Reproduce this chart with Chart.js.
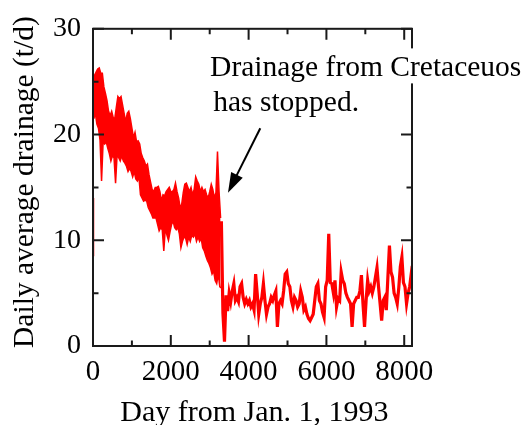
<!DOCTYPE html>
<html>
<head>
<meta charset="utf-8">
<script src="https://cdn.jsdelivr.net/npm/chart.js@4.4.1/dist/chart.umd.min.js"></script>
<style>
  html, body { margin: 0; padding: 0; background: #fff; }
  #wrap { width: 528px; height: 425px; }
</style>
</head>
<body>
<div id="wrap"><canvas id="drainChart" width="528" height="425"></canvas></div>
<script>
// setup
// days counted from Jan. 1, 1993; drainage in t/d
const startSpike = [8.5, 14];            // first day reading
// before the stop the daily values are very noisy: top / bottom of the band
const bandStep = 40;                      // top at 0, 40, 80 ... bottom at 20, 60, 100 ...
const bandTop = [
  25.0, 25.6, 25.9, 26.2, 26.3, 25.8, 25.8, 24.5, 23.9, 23.2, // 0 - 360
  22.2, 21.8, 22.2, 21.6, 21.5, 22.6, 23.6, 23.4, 23.6, 22.8, // 400 - 760
  22.0, 21.2, 22.0, 22.2, 21.5, 20.6, 19.7, 20.2, 19.3, 19.4, // 800 - 1160
  19.1, 18.2, 17.8, 17.5, 17.0, 17.2, 16.2, 15.5, 14.8, 14.6, // 1200 - 1560
  15.0, 15.0, 15.1, 14.6, 13.7, 14.3, 14.2, 14.6, 14.8, 15.0, // 1600 - 1960
  14.6, 14.6, 14.8, 15.4, 14.6, 14.0, 13.1, 13.4, 14.5, 15.3, // 2000 - 2360
  15.4, 15.0, 14.6, 15.0, 14.3, 14.8, 16.0, 15.6, 15.3, 14.6, // 2400 - 2760
  15.0, 14.6, 14.8, 14.3, 14.0, 14.6, 15.3, 14.8, 14.0, 14.5, // 2800 - 3160
  18.4, 14.6, 12.1                                            // 3200 - 3280
];
const bandBottom = [
  21.5, 22.0, 21.0, 20.6, 19.5, 15.6, 19.3, 19.1, 19.3, 18.7, // 20 - 380
  18.2, 17.5, 18.0, 17.8, 15.4, 18.1, 17.8, 17.5, 18.0, 17.5, // 420 - 780
  17.3, 17.0, 16.5, 16.8, 16.5, 16.0, 16.5, 15.8, 15.6, 16.0, // 820 - 1180
  14.3, 14.0, 13.7, 13.8, 13.7, 13.1, 12.8, 12.5, 12.1, 12.1, // 1220 - 1580
  12.1, 11.5, 10.9, 11.2, 11.0, 9.0, 11.2, 10.5, 10.0, 10.8,  // 1620 - 1980
  11.5, 11.8, 11.2, 11.0, 11.2, 10.6, 9.3, 9.9, 10.3, 10.2,   // 2020 - 2380
  9.6, 10.3, 9.9, 10.5, 10.3, 10.6, 9.9, 10.3, 9.9, 10.2,     // 2420 - 2780
  9.3, 9.0, 8.5, 8.1, 7.8, 7.4, 6.8, 7.1, 6.2, 5.9,           // 2820 - 3180
  6.8, 5.6, 5.5                                               // 3220 - 3300
];
// from the stop on: one reading every 40 days from day 3300
const afterStart = 3300;
const afterStep = 40;
const afterStop = [
  11.8, 3.1, 0.4, 4.8, 3.3, 5.0, 4.2, 5.2,           // 3300 - 3580
  5.9, 4.3, 4.6, 4.2, 5.6, 5.9, 4.6, 4.0, 4.4, 4.0,  // 3620 - 3980
  4.3, 3.7, 4.0, 3.4, 6.8, 5.0, 3.0, 4.0, 4.6, 5.9,  // 4020 - 4380
  4.3, 3.0, 3.7, 4.0, 4.6, 4.3, 4.8, 5.2, 1.8, 4.0,  // 4420 - 4780
  4.3, 4.0, 5.2, 6.8, 7.0, 5.9, 5.6, 4.3, 3.7, 4.6,  // 4820 - 5180
  4.3, 3.7, 4.0, 5.2, 4.6, 3.4, 3.7, 3.0, 2.6, 2.4,  // 5220 - 5580
  2.7, 3.0, 4.3, 5.6, 5.9, 4.3, 4.0, 3.2, 2.7, 5.6,  // 5620 - 5980
  6.2, 10.6, 6.0, 5.9, 5.0, 6.2, 3.7, 4.5, 4.3, 7.0, // 6020 - 6380
  6.2, 5.9, 5.0, 4.6, 4.3, 4.0, 1.8, 4.0, 4.3, 4.6,  // 6420 - 6780
  4.6, 5.2, 6.7, 4.0, 1.8, 4.3, 6.2, 5.2, 5.6, 5.0,  // 6820 - 7180
  5.6, 6.5, 7.4, 5.6, 4.0, 2.4, 4.3, 4.6, 3.4, 6.5,  // 7220 - 7580
  9.5, 7.0, 6.5, 5.0, 4.6, 4.0, 5.5, 7.5, 8.4, 6.0,  // 7620 - 7980
  5.6, 4.0, 5.0, 5.6, 6.8, 6.2                       // 8020 - 8220
];
const xTicks = [0, 2000, 4000, 6000, 8000];
const yTicks = [0, 10, 20, 30];
const xTitle = 'Day from Jan. 1, 1993';
const yTitle = 'Daily average drainage (t/d)';
const noteLines = ['Drainage from Cretaceuos', 'has stopped.'];

const serif = "'Liberation Serif', 'Times New Roman', serif";
const red = '#ff0000';

// inward ticks, frame, axis titles, note + arrow
const framePlugin = {
  id: 'frame',
  afterDraw(chart) {
    const { ctx, chartArea: a, scales: { x, y } } = chart;
    ctx.save();
    ctx.strokeStyle = '#1a1a1a';
    ctx.lineWidth = 2;
    ctx.beginPath();
    for (let d = 0; d <= 8000; d += 1000) {
      const px = x.getPixelForValue(d);
      const len = d % 2000 === 0 ? 11 : 5.5;
      ctx.moveTo(px, a.bottom); ctx.lineTo(px, a.bottom - len);
      ctx.moveTo(px, a.top); ctx.lineTo(px, a.top + len);
    }
    for (let v = 0; v <= 30; v += 5) {
      const py = y.getPixelForValue(v);
      const len = v % 10 === 0 ? 11 : 5.5;
      ctx.moveTo(a.left, py); ctx.lineTo(a.left + len, py);
      ctx.moveTo(a.right, py); ctx.lineTo(a.right - len, py);
    }
    ctx.stroke();
    ctx.strokeRect(a.left, a.top, a.right - a.left, a.bottom - a.top);

    // axis titles
    ctx.fillStyle = '#000';
    ctx.textAlign = 'center';
    ctx.textBaseline = 'alphabetic';
    ctx.font = '30px ' + serif;
    ctx.fillText(xTitle, x.getPixelForValue(4150), 421);
    ctx.font = '29.5px ' + serif;
    ctx.save();
    ctx.translate(33, y.getPixelForValue(15.5));
    ctx.rotate(-Math.PI / 2);
    ctx.fillText(yTitle, 0, 0);
    ctx.restore();

    // note text
    ctx.font = '29.5px ' + serif;
    ctx.textAlign = 'left';
    const tx1 = x.getPixelForValue(3010), ty1 = y.getPixelForValue(25.5);
    const w1 = ctx.measureText(noteLines[0]).width;
    ctx.fillStyle = '#fff';
    ctx.fillRect(tx1 - 2, ty1 - 28, w1 + 4, 35);
    ctx.fillStyle = '#000';
    ctx.fillText(noteLines[0], tx1, ty1);
    ctx.fillText(noteLines[1], x.getPixelForValue(3090), y.getPixelForValue(22.2));

    // arrow
    const x0 = x.getPixelForValue(4300), y0 = y.getPixelForValue(20.6);
    const x1 = x.getPixelForValue(3470), y1 = y.getPixelForValue(14.5);
    const ang = Math.atan2(y1 - y0, x1 - x0);
    const hl = 20, hw = 6.5;
    ctx.strokeStyle = '#000';
    ctx.lineWidth = 2;
    ctx.beginPath();
    ctx.moveTo(x0, y0);
    ctx.lineTo(x1 - Math.cos(ang) * hl * 0.8, y1 - Math.sin(ang) * hl * 0.8);
    ctx.stroke();
    ctx.beginPath();
    ctx.moveTo(x1, y1);
    ctx.lineTo(x1 - Math.cos(ang) * hl - Math.sin(ang) * hw, y1 - Math.sin(ang) * hl + Math.cos(ang) * hw);
    ctx.lineTo(x1 - Math.cos(ang) * hl + Math.sin(ang) * hw, y1 - Math.sin(ang) * hl - Math.cos(ang) * hw);
    ctx.closePath();
    ctx.fill();
    ctx.restore();
  }
};

const lineStyle = { borderColor: red, pointRadius: 0, tension: 0 };

// config
const drainConfig = {
  type: 'line',
  data: {
    datasets: [
      { ...lineStyle, data: bandTop.map((v, i) => ({ x: i * bandStep, y: v })), borderWidth: 1.5, fill: '+1', backgroundColor: red },
      { ...lineStyle, data: bandBottom.map((v, i) => ({ x: i * bandStep + bandStep / 2, y: v })), borderWidth: 1.5, fill: false },
      { ...lineStyle, data: startSpike.map(v => ({ x: 0, y: v })), borderWidth: 2.5, fill: false },
      { ...lineStyle, data: afterStop.map((v, i) => ({ x: afterStart + i * afterStep, y: v })), borderWidth: 3.2, fill: false },
    ]
  },
  options: {
    responsive: false,
    animation: false,
    events: [],
    layout: { padding: { top: 27, right: 116, left: 0, bottom: 0 } },
    plugins: {
      legend: { display: false },
      tooltip: { enabled: false },
    },
    scales: {
      x: {
        type: 'linear',
        min: 0,
        max: 8200,
        afterBuildTicks: (s) => { s.ticks = xTicks.map(v => ({ value: v })); },
        afterFit: (s) => { s.height = 79; },
        grid: { display: false, drawTicks: false },
        border: { display: false },
        ticks: { color: '#000', font: { family: serif, size: 29 }, padding: 9, maxRotation: 0, autoSkip: false, callback: v => String(v) },
      },
      y: {
        min: 0,
        max: 30,
        afterBuildTicks: (s) => { s.ticks = yTicks.map(v => ({ value: v })); },
        afterFit: (s) => { s.width = 93; },
        grid: { display: false, drawTicks: false },
        border: { display: false },
        ticks: { color: '#000', font: { family: serif, size: 28 }, padding: 12, callback: v => String(v) },
      }
    }
  },
  plugins: [framePlugin]
};

// render
const drainChart = new Chart(document.getElementById('drainChart'), drainConfig);
</script>
</body>
</html>
